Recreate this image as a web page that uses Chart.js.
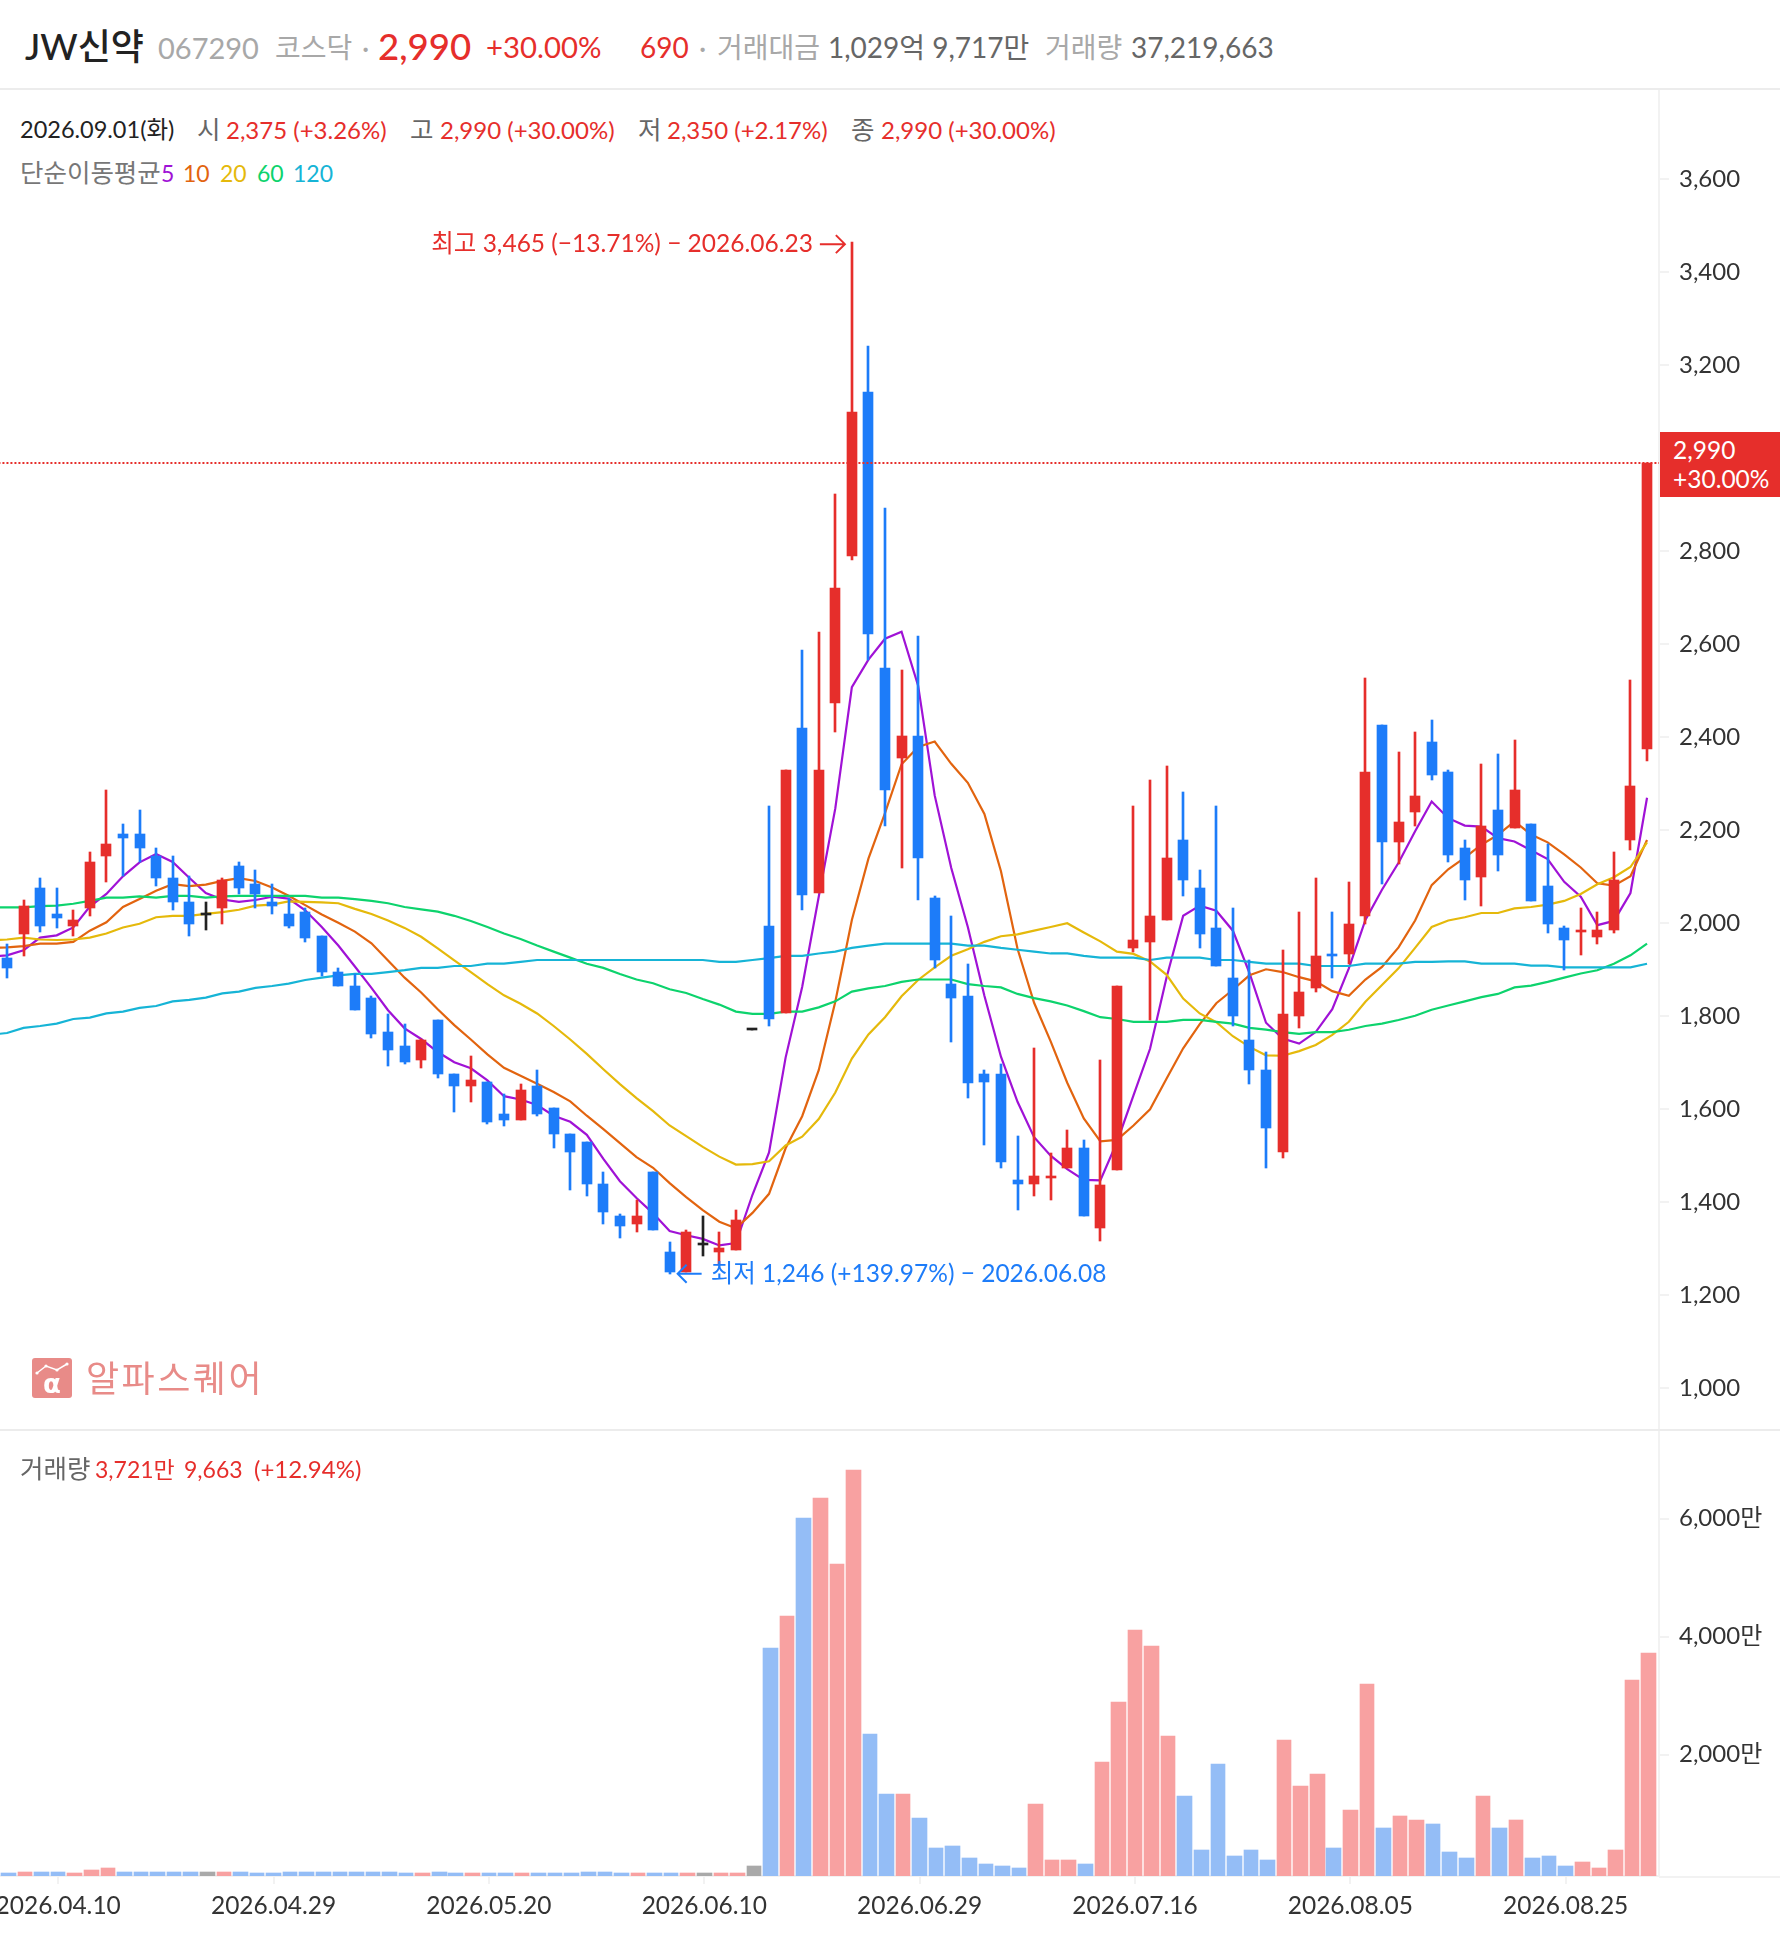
<!DOCTYPE html>
<html lang="ko">
<head>
<meta charset="utf-8">
<title>JW신약</title>
<script src="https://cdn.jsdelivr.net/npm/chart.js@4"></script>
<style>
  html, body { margin: 0; padding: 0; background: #fff; }
  body { width: 1780px; height: 1934px; position: relative; overflow: hidden; font-family: Lato, "Noto Sans CJK KR", sans-serif; }
  canvas { position: absolute; left: 0; }
  #price { top: 90px; }
  #volume { top: 1431px; }
  .t { position: absolute; white-space: nowrap; line-height: 1; transform: translateY(-50%); }
  .sep { position: absolute; left: 0; width: 1780px; height: 2px; background: #ececec; }
  .r { color: #e62e2b; }
  .head { font-size: 28px; }
  .info { font-size: 24px; }
  .kr { font-size: 25.5px; }
  .g1 { color: #a8a8a8; }
  .g2 { color: #666; }
  .g3 { color: #777; }
  #lastBox { position: absolute; left: 1660px; top: 432px; width: 120px; height: 65px; background: #e62e2b; color: #fff; font-size: 24.5px; line-height: 28.5px; }
  #lastBox div { padding-left: 13px; white-space: nowrap; position: relative; top: 4px; }
</style>
</head>
<body>
<div class="t" style="left:25px;top:46px;font-size:36px;font-weight:500;color:#222">JW신약</div>
<div class="t g1" style="left:158px;top:47px;font-size:29px">067290</div>
<div class="t head g1" style="left:275px;top:47px">코스닥</div>
<div class="t head g1" style="left:362px;top:47px">·</div>
<div class="t r" style="left:378px;top:46px;font-size:36.6px;font-weight:500">2,990</div>
<div class="t r" style="left:486px;top:47px;font-size:29.3px">+30.00%</div>
<div class="t head r" style="left:640px;top:47px">690</div>
<div class="t head g1" style="left:699px;top:47px">·</div>
<div class="t head g1" style="left:717px;top:47px">거래대금</div>
<div class="t head g2" style="left:828px;top:47px">1,029억 9,717만</div>
<div class="t head g1" style="left:1045px;top:47px">거래량</div>
<div class="t head g2" style="left:1131px;top:47px">37,219,663</div>
<div class="sep" style="top:88px"></div>

<div class="t" style="left:20px;top:130px;color:#222;font-size:23.5px">2026.09.01(화)</div>
<div class="t kr g2" style="left:197px;top:130px">시</div>
<div class="t info r" style="left:226px;top:130px">2,375 (+3.26%)</div>
<div class="t kr g2" style="left:410px;top:130px">고</div>
<div class="t info r" style="left:440px;top:130px">2,990 (+30.00%)</div>
<div class="t kr g2" style="left:638px;top:130px">저</div>
<div class="t info r" style="left:667px;top:130px">2,350 (+2.17%)</div>
<div class="t kr g2" style="left:851px;top:130px">종</div>
<div class="t info r" style="left:881px;top:130px">2,990 (+30.00%)</div>

<div class="t kr g3" style="left:20px;top:173px">단순이동평균</div>
<div class="t" style="left:161px;top:173px;font-size:23px;color:#a012d6">5</div>
<div class="t" style="left:183px;top:173px;font-size:23px;color:#e2640f">10</div>
<div class="t" style="left:220px;top:173px;font-size:23px;color:#e5b90b">20</div>
<div class="t" style="left:257px;top:173px;font-size:23px;color:#0dd36d">60</div>
<div class="t" style="left:293px;top:173px;font-size:23px;color:#16b4d6">120</div>

<canvas id="price" width="1780" height="1340"></canvas>
<canvas id="volume" width="1780" height="503"></canvas>

<div id="lastBox"><div>2,990</div><div>+30.00%</div></div>

<svg style="position:absolute;left:32px;top:1358px" width="40" height="40" viewBox="0 0 40 40">
  <rect width="40" height="40" rx="3" fill="#e88b88"/>
  <polyline points="5,15 14,8 25,12 35,6" fill="none" stroke="#fff" stroke-width="1.5"/>
  <circle cx="14" cy="8" r="1.6" fill="#fff"/><circle cx="25" cy="12" r="1.6" fill="#fff"/><circle cx="35" cy="6" r="1.6" fill="#fff"/><circle cx="5" cy="15" r="1.6" fill="#fff"/>
  <text x="20" y="35" text-anchor="middle" font-size="26" font-weight="700" font-family="'DejaVu Sans'" fill="#fff">α</text>
</svg>
<div class="t" style="left:86px;top:1378px;font-size:36px;letter-spacing:2.5px;color:#e88b88">알파스퀘어</div>
<div class="sep" style="top:1429px"></div>

<div class="t kr g2" style="left:20px;top:1469px">거래량</div>
<div class="t r" style="left:95px;top:1469px;font-size:23px">3,721만</div>
<div class="t r" style="left:184px;top:1469px;font-size:23px">9,663</div>
<div class="t info r" style="left:254px;top:1469px">(+12.94%)</div>
<div style="position:absolute;left:1659px;top:1876px;width:121px;height:2px;background:#f2f2f2"></div>

<script>
// trading days, 2026
const dates = [
    "04.07","04.08","04.09","04.10","04.13","04.14","04.15","04.16","04.17","04.20",
    "04.21","04.22","04.23","04.24","04.27","04.28","04.29","04.30","05.04","05.06",
    "05.07","05.08","05.11","05.12","05.13","05.14","05.15","05.18","05.19","05.20",
    "05.21","05.22","05.26","05.27","05.28","05.29","06.01","06.02","06.04","06.05",
    "06.08","06.09","06.10","06.11","06.12","06.15","06.16","06.17","06.18","06.19",
    "06.22","06.23","06.24","06.25","06.26","06.29","06.30","07.01","07.02","07.03",
    "07.06","07.07","07.08","07.09","07.10","07.13","07.14","07.15","07.16","07.20",
    "07.21","07.22","07.23","07.24","07.27","07.28","07.29","07.30","07.31","08.03",
    "08.04","08.05","08.06","08.07","08.10","08.11","08.12","08.13","08.14","08.18",
    "08.19","08.20","08.21","08.24","08.25","08.26","08.27","08.28","08.31","09.01"
].map(d => "2026." + d);

const opens = [
    1926,1977,2076,2020,1994,2033,2145,2192,2192,2145,
    2098,2046,2018,2033,2123,2085,2046,2020,2025,1973,
    1895,1865,1840,1766,1736,1706,1792,1676,1650,1659,
    1590,1577,1650,1603,1547,1530,1440,1371,1353,1465,
    1293,1250,1308,1293,1298,1770,1995,1806,2421,2064,
    2473,2791,3143,2549,2356,2403,2055,1870,1844,1676,
    1676,1448,1439,1453,1474,1517,1345,1470,1947,1960,
    2007,2179,2076,1990,1883,1749,1685,1508,1801,1861,
    1934,1934,2016,2427,2175,2240,2390,2326,2162,2099,
    2244,2205,2214,2080,1990,1982,1970,1986,2180,2375
];
const highs = [
    1956,2050,2098,2076,2029,2154,2287,2214,2244,2162,
    2145,2102,2046,2098,2132,2115,2085,2055,2033,1973,
    1904,1891,1844,1805,1784,1752,1792,1676,1715,1659,
    1633,1655,1685,1603,1547,1530,1465,1375,1405,1465,
    1315,1341,1371,1336,1384,1770,2253,2330,2588,2627,
    2924,3465,3242,2894,2545,2618,2059,2016,1913,1684,
    1697,1543,1732,1505,1556,1534,1706,1865,2253,2308,
    2339,2283,2115,2253,2033,1921,1723,1943,2025,2098,
    2025,2089,2528,2427,2369,2411,2438,2330,2180,2343,
    2365,2395,2214,2171,1994,2033,2025,2154,2524,2990
];
const lows = [
    1883,1930,1981,1990,1973,2016,2089,2102,2132,2080,
    2029,1973,1986,1999,2063,2033,2020,1990,1960,1887,
    1865,1814,1754,1693,1698,1689,1668,1594,1616,1569,
    1564,1577,1586,1517,1427,1414,1353,1323,1336,1341,
    1246,1250,1285,1265,1298,1770,1780,1806,2029,2064,
    2412,2782,2567,2210,2119,2050,1904,1745,1624,1522,
    1474,1384,1414,1405,1474,1370,1316,1470,1938,1792,
    2007,2059,1947,1908,1779,1655,1474,1495,1775,1852,
    1883,1913,1999,2085,2128,2209,2309,2132,2051,2038,
    2112,2205,2047,1978,1900,1931,1956,1978,2158,2350
];
const closes = [
    1904,2037,1994,2012,2007,2132,2171,2184,2162,2098,
    2046,1999,2018,2093,2076,2063,2037,1994,1969,1895,
    1865,1814,1762,1728,1702,1749,1676,1650,1663,1573,
    1577,1642,1590,1547,1508,1440,1379,1349,1371,1341,
    1250,1336,1308,1302,1362,1770,1793,2330,2060,2330,
    2722,3100,2622,2287,2403,2141,1922,1840,1656,1659,
    1487,1439,1457,1457,1517,1370,1436,1865,1964,2016,
    2141,2093,1977,1908,1801,1685,1560,1805,1852,1930,
    1930,1999,2326,2175,2218,2274,2318,2146,2094,2209,
    2146,2287,2047,1999,1965,1985,1985,2093,2295,2990
];
// volume in 만주
const volumes = [
    1,12,12,12,1,46,85,12,12,12,
    12,12,12,12,12,1,1,12,12,12,
    12,12,12,12,1,1,12,1,1,1,
    1,1,1,1,1,12,12,1,1,1,
    1,1,1,1,1,113,3808,4350,6012,6351,
    5232,6825,2350,1333,1333,927,418,452,249,147,
    113,79,1164,215,215,147,1876,2893,4113,3842,
    2317,1300,384,1842,283,384,215,2249,1469,1672,
    418,1062,3198,757,960,893,825,350,249,1300,
    757,893,249,283,113,181,79,384,3266,3722
];

// moving averages start one session before the first candle, it sits just off the left edge
const ma5 = [
    1928,
    1931,1942,1969,1974,1991,2036,2063,2101,2131,2149,
    2132,2098,2065,2051,2046,2050,2057,2053,2028,1992,
    1952,1907,1861,1813,1774,1751,1723,1701,1688,1662,
    1628,1621,1609,1586,1573,1545,1493,1445,1409,1376,
    1338,1329,1321,1307,1312,1416,1507,1711,1863,2057,
    2247,2508,2567,2612,2627,2511,2275,2119,1992,1844,
    1713,1616,1540,1500,1471,1448,1447,1529,1630,1730,
    1884,2016,2038,2027,1984,1893,1786,1752,1741,1766,
    1815,1903,2007,2072,2130,2198,2262,2226,2210,2208,
    2183,2176,2157,2138,2089,2057,1996,2005,2065,2270
];
const ma10 = [
    1947,
    1948,1951,1956,1956,1960,1984,2002,2035,2052,2070,
    2084,2080,2083,2091,2097,2091,2077,2059,2039,2019,
    2001,1982,1957,1920,1883,1851,1815,1781,1750,1718,
    1689,1672,1655,1637,1617,1586,1557,1527,1497,1474,
    1441,1411,1383,1358,1344,1377,1418,1516,1585,1684,
    1831,2007,2139,2237,2342,2379,2391,2343,2302,2235,
    2112,1945,1829,1746,1657,1580,1531,1534,1565,1600,
    1666,1731,1783,1828,1857,1888,1901,1895,1884,1875,
    1854,1844,1879,1906,1948,2006,2082,2116,2141,2169,
    2190,2219,2191,2174,2148,2120,2086,2081,2101,2179
];
const ma20 = [
    1963,
    1965,1969,1965,1964,1965,1969,1978,1991,1999,2013,
    2016,2016,2020,2024,2029,2038,2040,2047,2046,2045,
    2043,2031,2020,2006,1990,1971,1946,1920,1895,1869,
    1845,1827,1806,1779,1750,1719,1686,1654,1624,1596,
    1565,1542,1519,1498,1481,1482,1488,1522,1541,1579,
    1636,1709,1761,1798,1843,1878,1905,1930,1944,1960,
    1972,1976,1984,1992,2000,1980,1961,1939,1934,1918,
    1889,1838,1806,1787,1757,1734,1716,1715,1725,1738,
    1760,1788,1831,1867,1903,1947,1992,2006,2013,2022,
    2022,2032,2035,2040,2048,2063,2084,2099,2121,2174
];
const ma60 = [
    2034,
    2034,2034,2037,2038,2042,2048,2055,2055,2058,2055,
    2059,2059,2055,2058,2059,2059,2059,2059,2059,2055,
    2055,2052,2048,2043,2035,2030,2025,2016,2005,1992,
    1978,1966,1952,1939,1926,1913,1904,1891,1879,1871,
    1858,1850,1837,1825,1810,1805,1805,1810,1810,1819,
    1832,1853,1860,1865,1874,1879,1879,1879,1869,1865,
    1862,1848,1839,1832,1823,1811,1798,1794,1788,1788,
    1788,1792,1792,1788,1784,1775,1771,1766,1762,1766,
    1766,1771,1779,1784,1792,1801,1814,1823,1832,1841,
    1848,1862,1866,1874,1883,1892,1899,1913,1931,1956
];
const ma120 = [
    1760,
    1764,1775,1779,1784,1794,1797,1806,1810,1818,1822,
    1832,1835,1840,1849,1853,1861,1865,1870,1878,1883,
    1888,1891,1891,1895,1899,1904,1904,1908,1908,1913,
    1913,1917,1921,1921,1921,1921,1921,1921,1921,1921,
    1921,1921,1921,1917,1917,1921,1925,1930,1930,1935,
    1939,1947,1952,1956,1956,1956,1956,1956,1952,1952,
    1947,1943,1939,1935,1935,1930,1926,1926,1926,1921,
    1926,1926,1926,1921,1921,1917,1913,1913,1913,1908,
    1908,1908,1913,1913,1913,1917,1917,1918,1918,1913,
    1913,1913,1909,1909,1905,1905,1905,1905,1905,1913
];

const priceTicks = [1000, 1200, 1400, 1600, 1800, 2000, 2200, 2400, 2600, 2800, 3200, 3400, 3600];
const volumeTicks = [2000, 4000, 6000];
const dateTicks = [3, 16, 29, 42, 55, 68, 81, 94];

const highLabel = "최고 3,465 (−13.71%) − 2026.06.23";
const lowLabel = "최저 1,246 (+139.97%) − 2026.06.08";
const highIndex = 51;
const lowIndex = 40;

const RED = "#e62e2b", BLUE = "#1d7cf9", BLACK = "#222222";
const FONT = 'Lato, "Noto Sans CJK KR", sans-serif';
const LINE_GRAY = "#f2f2f2", TICK_TEXT = "#333333";

const candleColor = i => closes[i] > opens[i] ? RED : closes[i] < opens[i] ? BLUE : BLACK;
const volumeColor = i => closes[i] > opens[i] ? "#f8a1a1" : closes[i] < opens[i] ? "#94bdf6" : "#a9a9a9";

// bar edges on whole pixels, otherwise the candles come out blurry
const snapBars = {
    id: "snapBars",
    afterDatasetsUpdate(chart) {
        chart.getSortedVisibleDatasetMetas().forEach(meta => {
            if (meta.type !== "bar") return;
            meta.data.forEach(bar => {
                const left = Math.round(bar.x - bar.width / 2);
                const right = Math.round(bar.x + bar.width / 2);
                bar.x = (left + right) / 2;
                bar.width = right - left;
                bar.y = Math.round(bar.y);
                bar.base = Math.round(bar.base);
            });
        });
    }
};

const arrow = (ctx, from, to, y) => {
    const dir = to > from ? 1 : -1;
    ctx.beginPath();
    ctx.moveTo(from, y);
    ctx.lineTo(to, y);
    ctx.moveTo(to - dir * 9, y - 9);
    ctx.lineTo(to, y);
    ctx.lineTo(to - dir * 9, y + 9);
    ctx.stroke();
};

const extremes = {
    id: "extremes",
    afterDraw(chart) {
        const {ctx, scales: {x, y}} = chart;
        ctx.save();
        ctx.font = "24.5px " + FONT;
        ctx.textBaseline = "middle";
        ctx.lineWidth = 2;

        const hx = x.getPixelForValue(highIndex), hy = y.getPixelForValue(highs[highIndex]) + 2;
        ctx.fillStyle = ctx.strokeStyle = RED;
        ctx.textAlign = "right";
        ctx.fillText(highLabel, hx - 39, hy);
        arrow(ctx, hx - 32, hx - 7, hy);

        const lx = x.getPixelForValue(lowIndex), ly = y.getPixelForValue(lows[lowIndex]);
        ctx.fillStyle = ctx.strokeStyle = BLUE;
        ctx.textAlign = "left";
        ctx.fillText(lowLabel, lx + 41, ly);
        arrow(ctx, lx + 32, lx + 8, ly);
        ctx.restore();
    }
};

const maLine = (values, color) => ({
    type: "line",
    data: values.map((y, i) => ({x: i - 1, y})),
    borderColor: color,
    borderWidth: 2.2,
    pointRadius: 0,
    tension: 0,
    order: 3
});

const zeroPadding = scale => {
    scale.paddingLeft = scale.paddingRight = scale.paddingTop = scale.paddingBottom = 0;
};

const rightAxis = (ticks, callback) => ({
    position: "right",
    border: {color: LINE_GRAY, width: 2},
    grid: {drawOnChartArea: false, color: LINE_GRAY, lineWidth: 2, tickLength: 10},
    afterBuildTicks: scale => { scale.ticks = ticks.map(value => ({value})); },
    afterFit: scale => { scale.width = 121; zeroPadding(scale); },
    ticks: {
        padding: 10,
        color: TICK_TEXT,
        font: {family: FONT, size: 24},
        callback
    }
});

const PX_PER_BAR = 16.566;
const AREA_RIGHT = 1659;
const PRICE_X0 = 7;
const VOLUME_X0 = 8.5;
const VOLUME_MIN = -56;

new Chart("price", {
    type: "bar",
    plugins: [snapBars, extremes],
    data: {
        datasets: [
            {
                data: closes.map((c, i) => ({x: i, y: [lows[i], highs[i]]})),
                backgroundColor: closes.map((c, i) => candleColor(i)),
                barThickness: 2,
                grouped: false,
                order: 2
            },
            {
                data: closes.map((c, i) => ({x: i, y: [Math.min(opens[i], c), Math.max(opens[i], c)]})),
                backgroundColor: closes.map((c, i) => candleColor(i)),
                barThickness: 10,
                minBarLength: 2,
                grouped: false,
                order: 1
            },
            maLine(ma120, "#16b4d6"),
            maLine(ma60, "#0dd36d"),
            maLine(ma20, "#e5b90b"),
            maLine(ma10, "#e2640f"),
            maLine(ma5, "#a012d6"),
            {
                type: "line",
                data: [{x: -1, y: closes[99]}, {x: 100, y: closes[99]}],
                borderColor: RED,
                borderWidth: 2,
                borderDash: [2, 2],
                pointRadius: 0,
                order: 0
            }
        ]
    },
    options: {
        responsive: false,
        animation: false,
        events: [],
        layout: {padding: 0},
        plugins: {legend: {display: false}, tooltip: {enabled: false}},
        scales: {
            x: {
                type: "linear",
                display: false,
                offset: false,
                min: -PRICE_X0 / PX_PER_BAR,
                max: (AREA_RIGHT - PRICE_X0) / PX_PER_BAR
            },
            y: Object.assign(rightAxis(priceTicks, v => v.toLocaleString("en-US")), {
                min: 910,
                max: 3792.3
            })
        }
    }
});

new Chart("volume", {
    type: "bar",
    plugins: [snapBars],
    data: {
        datasets: [{
            data: volumes.map((v, i) => ({x: i, y: v})),
            backgroundColor: volumes.map((v, i) => volumeColor(i)),
            barThickness: 14.6,
            base: VOLUME_MIN,
            grouped: false
        }]
    },
    options: {
        responsive: false,
        animation: false,
        events: [],
        layout: {padding: 0},
        plugins: {legend: {display: false}, tooltip: {enabled: false}},
        scales: {
            x: {
                type: "linear",
                offset: false,
                min: -VOLUME_X0 / PX_PER_BAR,
                max: (AREA_RIGHT - VOLUME_X0) / PX_PER_BAR,
                border: {color: LINE_GRAY, width: 2},
                grid: {drawOnChartArea: false, offset: false, color: LINE_GRAY, lineWidth: 2, tickLength: 8},
                afterBuildTicks: scale => { scale.ticks = dateTicks.map(value => ({value})); },
                afterFit: scale => { scale.height = 58; zeroPadding(scale); },
                ticks: {
                    autoSkip: false,
                    maxRotation: 0,
                    padding: 7,
                    color: TICK_TEXT,
                    font: {family: FONT, size: 24.5},
                    callback: v => dates[v]
                }
            },
            y: Object.assign(rightAxis(volumeTicks, v => v.toLocaleString("en-US") + "만"), {
                min: VOLUME_MIN,
                max: 7486
            })
        }
    }
});
</script>
</body>
</html>
